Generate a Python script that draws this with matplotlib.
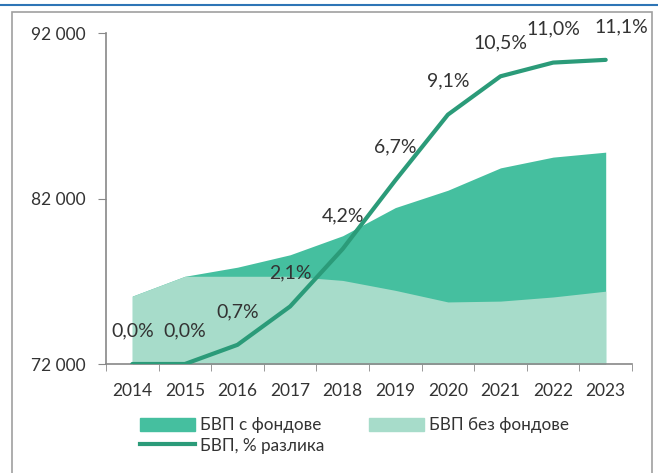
import matplotlib
matplotlib.use("Agg")
import matplotlib.pyplot as plt
from matplotlib.patches import Patch, Rectangle
from matplotlib.lines import Line2D

plt.rcParams['font.family'] = ['Lato', 'DejaVu Sans']

years = ["2014", "2015", "2016", "2017", "2018", "2019", "2020", "2021", "2022", "2023"]
gdp_with_funds = [76100, 77300, 77850, 78600, 79750, 81450, 82500, 83850, 84500, 84800]
gdp_without_funds = [76100, 77300, 77300, 77300, 77050, 76450, 75750, 75800, 76050, 76400]
pct_diff = [0.0, 0.0, 0.7, 2.1, 4.2, 6.7, 9.1, 10.5, 11.0, 11.1]
pct_labels = ["0,0%", "0,0%", "0,7%", "2,1%", "4,2%", "6,7%", "9,1%", "10,5%", "11,0%", "11,1%"]
y_ticks = [72000, 82000, 92000]
y_tick_labels = ["72 000", "82 000", "92 000"]

c_dark = "#45BF9F"
c_light = "#A7DCCA"
c_line = "#2B9B79"
txt = "#333333"

fig = plt.figure(figsize=(6.58, 4.73), dpi=100)
# frame decorations
fig.add_artist(Line2D([0.0, 1.0], [1 - 5/473, 1 - 5/473], color="#2E75B6", lw=1.5, transform=fig.transFigure))
fig.add_artist(Rectangle((12/658, -0.05), 640/658, 1 - 12/473 + 0.05, fill=False,
                         edgecolor="#A0A0A0", lw=1.2, transform=fig.transFigure))

ax = fig.add_axes([106/658, 1 - 364/473, (632 - 106)/658, (364 - 33)/473])
x = list(range(len(years)))
ax.fill_between(x, 72000, gdp_with_funds, color=c_dark, lw=0, zorder=1)
ax.fill_between(x, 72000, gdp_without_funds, color=c_light, lw=0, zorder=2)
ax.set_xlim(-0.5, len(years) - 0.5)
ax.set_ylim(72000, 92000)
ax.set_yticks(y_ticks)
ax.set_yticklabels(y_tick_labels, color=txt, fontsize=12.5)
ax.set_xticks(x)
ax.set_xticklabels(years, color=txt, fontsize=12.5)
ax.set_xticks([i - 0.5 for i in range(len(years) + 1)], minor=True)
ax.tick_params(axis='x', which='major', length=0, pad=14)
ax.tick_params(axis='x', which='minor', length=5, color="#888888", direction='out')
ax.tick_params(axis='y', length=6, color="#888888", direction='out', pad=9)
for s in ["top", "right"]:
    ax.spines[s].set_visible(False)
for s in ["left", "bottom"]:
    ax.spines[s].set_color("#888888")
    ax.spines[s].set_linewidth(1.2)

ax2 = ax.twinx()
ax2.set_ylim(0, 12.08)
ax2.plot(x, pct_diff, color=c_line, lw=3, solid_capstyle='round', zorder=5)
ax2.axis('off')
for i, (v, lab) in enumerate(zip(pct_diff, pct_labels)):
    dx = 11 if i == len(years) - 1 else 0
    ax2.annotate(lab, (i, v), xytext=(dx, 24), textcoords='offset points',
                 ha='center', va='center', fontsize=14, color=txt)
ax2.set_zorder(ax.get_zorder() + 1)

handles = [Patch(color=c_dark, label="БВП с фондове"),
           Line2D([], [], color=c_line, lw=3, label="БВП, % разлика"),
           Patch(color=c_light, label="БВП без фондове")]
leg = fig.legend(handles=handles, ncol=2, loc='upper left', bbox_to_anchor=(125/658, 1 - 402/473),
                 frameon=False, fontsize=12.3, handlelength=3.2, handleheight=0.8,
                 columnspacing=2.6, labelspacing=0.25, handletextpad=0.3, labelcolor=txt)

fig.savefig("out.png", dpi=100)
